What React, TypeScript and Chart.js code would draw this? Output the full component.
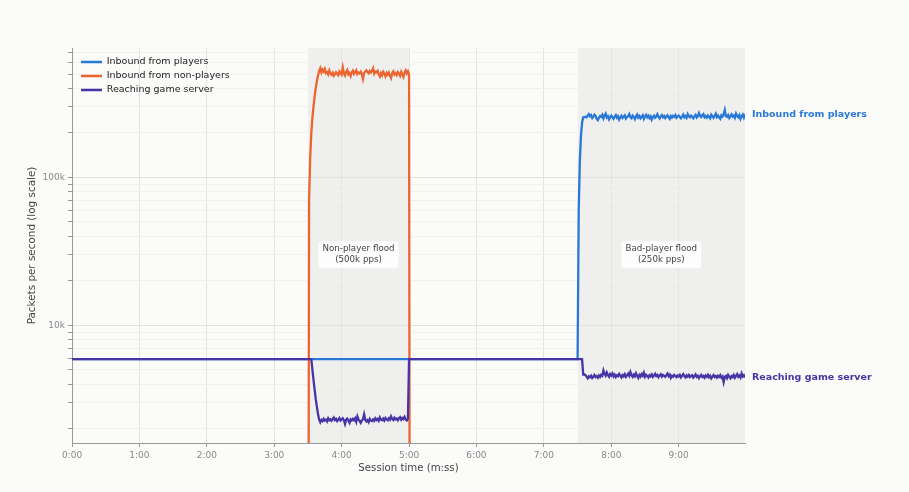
import React, { useEffect, useRef } from "react";
import Chart from "chart.js/auto";

const FONT = "DejaVu Sans";

// seconds since session start; 1 sample per second in the flood windows
const baseline = 5900; // pps before/after floods
const offScale = 1; // 0 pps, drawn below the log axis
const floodSpans = [
  [210, 300],
  [450, 600],
];
const floodLabels = [
  ["Non-player flood", "(500k pps)"],
  ["Bad-player flood", "(250k pps)"],
];
const xTicks = [0, 60, 120, 180, 240, 300, 360, 420, 480, 540];

// inbound from non-players, t = 211..220 (pps)
const nonPlayerRamp = [70000, 135000, 200000, 255000, 305000, 355000, 405000, 450000, 490000, 525000];
// inbound from non-players, t = 221..300 (k pps)
const nonPlayerFlood = [
  548, 512, 536, 520, 541, 507, 515, 498, 529, 503,
  494, 510, 487, 499, 515, 502, 491, 521, 508, 496,
  554, 506, 489, 517, 533, 498, 508, 485, 512, 527,
  502, 516, 530, 499, 511, 505, 518, 495, 462, 509,
  521, 530, 515, 506, 524, 512, 527, 548, 503, 519,
  514, 525, 498, 481, 507, 490, 518, 502, 483, 509,
  495, 512, 488, 470, 506, 521, 497, 508, 492, 515,
  503, 486, 517, 498, 478, 510, 529, 504, 521, 496,
];

// reaching game server during flood 1: drop t = 214..220, then t = 221..299
const reachingDropOne = [5000, 4250, 3650, 3150, 2800, 2500, 2300];
const reachingFloodOne = [
  2210, 2290, 2250, 2330, 2270, 2300, 2240, 2350, 2280, 2310,
  2260, 2320, 2380, 2290, 2330, 2250, 2300, 2360, 2270, 2310,
  2350, 2280, 2150, 2300, 2340, 2260, 2190, 2310, 2270, 2330,
  2280, 2350, 2230, 2420, 2300, 2260, 2190, 2270, 2320, 2500,
  2300, 2240, 2280, 2210, 2330, 2270, 2250, 2310, 2260, 2350,
  2290, 2330, 2260, 2380, 2300, 2280, 2340, 2270, 2360, 2310,
  2280, 2350, 2300, 2420, 2330, 2290, 2370, 2310, 2340, 2280,
  2350, 2390, 2300, 2360, 2320, 2400, 2310, 2270, 2330,
];

// inbound from players during flood 2: ramp t = 451..455, then t = 456..599 (k pps)
const playersRamp = [60000, 130000, 190000, 235000, 255000];
const playersFlood = [
  256, 257, 255, 262, 268, 259, 264, 252, 258, 266, 261, 249,
  244, 253, 260, 257, 265, 251, 262, 270, 254, 259, 247, 256,
  262, 255, 249, 258, 264, 253, 259, 246, 255, 261, 252, 257,
  263, 250, 256, 260, 268, 255, 251, 262, 257, 248, 259, 266,
  254, 260, 251, 257, 263, 249, 258, 265, 255, 261, 252, 259,
  246, 256, 262, 253, 258, 267, 256, 250, 259, 264, 255, 260,
  252, 258, 263, 255, 249, 260, 254, 261, 257, 264, 253, 259,
  262, 256, 251, 258, 266, 255, 260, 253, 268, 259, 255, 262,
  257, 251, 260, 265, 254, 259, 272, 261, 256, 263, 268, 255,
  260, 254, 262, 257, 251, 265, 259, 253, 261, 270, 256, 262,
  255, 249, 263, 258, 266, 285, 260, 257, 264, 252, 259, 267,
  258, 262, 253, 270, 260, 255, 264, 249, 259, 266, 254, 268,
];

// reaching game server during flood 2: t = 455, then t = 456..599
const reachingDropTwo = [4650];
const reachingFloodTwo = [
  4650, 4600, 4500, 4380, 4520, 4450, 4560, 4400, 4490, 4610, 4470, 4530,
  4420, 4580, 4480, 4620, 4550, 4950, 4700, 4560, 4800, 4620, 4490, 4680,
  4580, 4720, 4510, 4640, 4470, 4600, 4530, 4690, 4560, 4440, 4610, 4520,
  4670, 4480, 4590, 4720, 4550, 4830, 4600, 4480, 4650, 4530, 4740, 4560,
  4410, 4620, 4500, 4680, 4560, 4780, 4490, 4630, 4550, 4440, 4600, 4520,
  4650, 4480, 4580, 4700, 4530, 4610, 4460, 4580, 4670, 4500, 4620, 4550,
  4480, 4600, 4720, 4530, 4640, 4410, 4560, 4490, 4620, 4540, 4460, 4580,
  4510, 4620, 4450, 4570, 4680, 4530, 4440, 4590, 4500, 4620, 4470, 4550,
  4600, 4430, 4520, 4650, 4480, 4560, 4390, 4510, 4620, 4470, 4540, 4420,
  4580, 4490, 4630, 4450, 4550, 4380, 4500, 4610, 4470, 4540, 4430, 4560,
  4480, 4600, 4420, 4510, 4130, 4470, 4550, 4400, 4620, 4490, 4380, 4530,
  4460, 4610, 4420, 4540, 4680, 4480, 4570, 4430, 4720, 4510, 4600, 4440,
];

const yTicks = [
  2000, 3000, 4000, 5000, 6000, 7000, 8000, 9000,
  10000, 20000, 30000, 40000, 50000, 60000, 70000, 80000, 90000,
  100000, 200000, 300000, 400000, 500000, 600000, 700000,
];
const yTickLabels: Record<number, string> = { 10000: "10k", 100000: "100k" };

const seriesNames = ["Inbound from players", "Inbound from non-players", "Reaching game server"];
const seriesColors = ["#2a78d6", "#ec6530", "#4934a6"];
const endLabels = [
  { dataset: 0, text: "Inbound from players" },
  { dataset: 2, text: "Reaching game server" },
];

const at = (start: number, values: number[], scale = 1) =>
  values.map((v, i) => ({ x: start + i, y: v * scale }));

const players = [
  { x: 0, y: baseline },
  { x: 450, y: baseline },
  ...at(451, playersRamp),
  ...at(456, playersFlood, 1000),
];
const nonPlayers = [
  { x: 210, y: offScale },
  ...at(211, nonPlayerRamp),
  ...at(221, nonPlayerFlood, 1000),
  { x: 301, y: offScale },
];
const reaching = [
  { x: 0, y: baseline },
  { x: 213, y: baseline },
  ...at(214, reachingDropOne),
  ...at(221, reachingFloodOne),
  { x: 300, y: baseline },
  { x: 454, y: baseline },
  ...at(455, reachingDropTwo),
  ...at(456, reachingFloodTwo),
];

const fmtTime = (v: number) => `${Math.floor(v / 60)}:${String(v % 60).padStart(2, "0")}`;

const backdrop = {
  id: "backdrop",
  beforeDraw(chart: any) {
    const { ctx, chartArea, scales } = chart;
    ctx.save();
    ctx.fillStyle = "#fbfbfa";
    ctx.fillRect(0, 0, chart.width, chart.height);
    ctx.fillStyle = "#efefee";
    floodSpans.forEach(([a, b]) => {
      const x1 = scales.x.getPixelForValue(a);
      const x2 = Math.min(scales.x.getPixelForValue(b), chartArea.right);
      ctx.fillRect(x1, chartArea.top, x2 - x1, chartArea.bottom - chartArea.top);
    });
    ctx.restore();
  },
};

const legendNudge = {
  id: "legendNudge",
  afterLayout(chart: any) {
    if (chart.legend) {
      chart.legend.left = chart.chartArea.left + 4.5;
      chart.legend.top = chart.chartArea.top + 4.75;
    }
  },
};

const notes = {
  id: "notes",
  afterDatasetsDraw(chart: any) {
    const { ctx, chartArea, scales } = chart;
    ctx.save();
    ctx.font = `8.7px "${FONT}"`;
    ctx.textAlign = "center";
    ctx.textBaseline = "middle";
    floodSpans.forEach(([a, b], i) => {
      const lines = floodLabels[i];
      const cx = scales.x.getPixelForValue((a + Math.min(b, 599)) / 2);
      const cy = scales.y.getPixelForValue(30000);
      const w = Math.max(...lines.map((l) => ctx.measureText(l).width)) + 8;
      const h = 27;
      ctx.fillStyle = "rgba(255,255,255,0.85)";
      ctx.beginPath();
      ctx.roundRect(cx - w / 2, cy - h / 2, w, h, 3);
      ctx.fill();
      ctx.fillStyle = "#444";
      ctx.fillText(lines[0], cx, cy - 5.5);
      ctx.fillText(lines[1], cx, cy + 5.5);
    });
    ctx.font = `bold 9.5px "${FONT}"`;
    ctx.textAlign = "left";
    endLabels.forEach(({ dataset, text }) => {
      const pts = chart.getDatasetMeta(dataset).data;
      const last = pts[pts.length - 1];
      ctx.fillStyle = seriesColors[dataset];
      ctx.fillText(text, chartArea.right + 7, last.y);
    });
    ctx.restore();
  },
};

const TrafficChart = () => {
  const chartRef = useRef<HTMLCanvasElement | null>(null);

  useEffect(() => {
    document.body.style.margin = "0";
    document.body.style.background = "#fbfbfa";
    if (!chartRef.current) return;
    const ctx = chartRef.current.getContext("2d");
    if (!ctx) return;

    const chart = new Chart(ctx, {
      type: "line",
      data: {
        datasets: [players, nonPlayers, reaching].map((d, i) => ({
          label: seriesNames[i],
          data: d,
          borderColor: seriesColors[i],
          backgroundColor: seriesColors[i],
          borderWidth: 2.3,
          pointRadius: 0,
          tension: 0,
          order: 2 - i,
        })),
      },
      options: {
        animation: false,
        responsive: true,
        maintainAspectRatio: false,
        events: [],
        layout: { padding: { top: 48, right: 164, left: 0, bottom: 0 } },
        scales: {
          x: {
            type: "linear",
            min: 0,
            max: 599,
            afterFit: (s: any) => {
              s.height = 49;
            },
            afterBuildTicks: (s: any) => {
              s.ticks = xTicks.map((v) => ({ value: v }));
            },
            ticks: {
              autoSkip: false,
              color: "#888",
              padding: 3,
              maxRotation: 0,
              font: { family: FONT, size: 9 },
              callback: (v: any) => fmtTime(Number(v)),
            },
            grid: { color: "#e4e4e2", tickColor: "#999", tickLength: 4 },
            border: { color: "#999" },
            title: {
              display: true,
              text: "Session time (m:ss)",
              color: "#444",
              font: { family: FONT, size: 10.2 },
              padding: { top: 0, bottom: 18 },
            },
          },
          y: {
            type: "logarithmic",
            min: 1600,
            max: 750000,
            afterFit: (s: any) => {
              s.width = 72;
            },
            afterBuildTicks: (s: any) => {
              s.ticks = yTicks.map((v) => ({ value: v }));
            },
            ticks: {
              autoSkip: false,
              color: "#888",
              padding: 3,
              font: { family: FONT, size: 9 },
              callback: (v: any) => yTickLabels[Number(v)] ?? "",
            },
            grid: {
              color: (c: any) => (c.tick && yTickLabels[c.tick.value] ? "#e1e1df" : "#f1f1ef"),
              tickColor: "#999",
              tickLength: 4,
            },
            border: { color: "#999" },
            title: {
              display: true,
              text: "Packets per second (log scale)",
              color: "#444",
              font: { family: FONT, size: 10.4 },
              padding: { top: 26, bottom: 0 },
            },
          },
        },
        plugins: {
          tooltip: { enabled: false },
          legend: {
            position: "chartArea",
            align: "start",
            labels: {
              usePointStyle: true,
              pointStyle: "line",
              pointStyleWidth: 21,
              padding: 4.5,
              color: "#222",
              font: { family: FONT, size: 9.5 },
              sort: (a: any, b: any) => a.datasetIndex - b.datasetIndex,
            },
          },
        },
      } as any,
      plugins: [backdrop, legendNudge, notes],
    });

    return () => {
      chart.destroy();
    };
  }, []);

  return (
    <div style={{ position: "relative", width: 909, height: 492 }}>
      <canvas ref={chartRef} />
    </div>
  );
};

export default function App() {
  return <TrafficChart />;
}
